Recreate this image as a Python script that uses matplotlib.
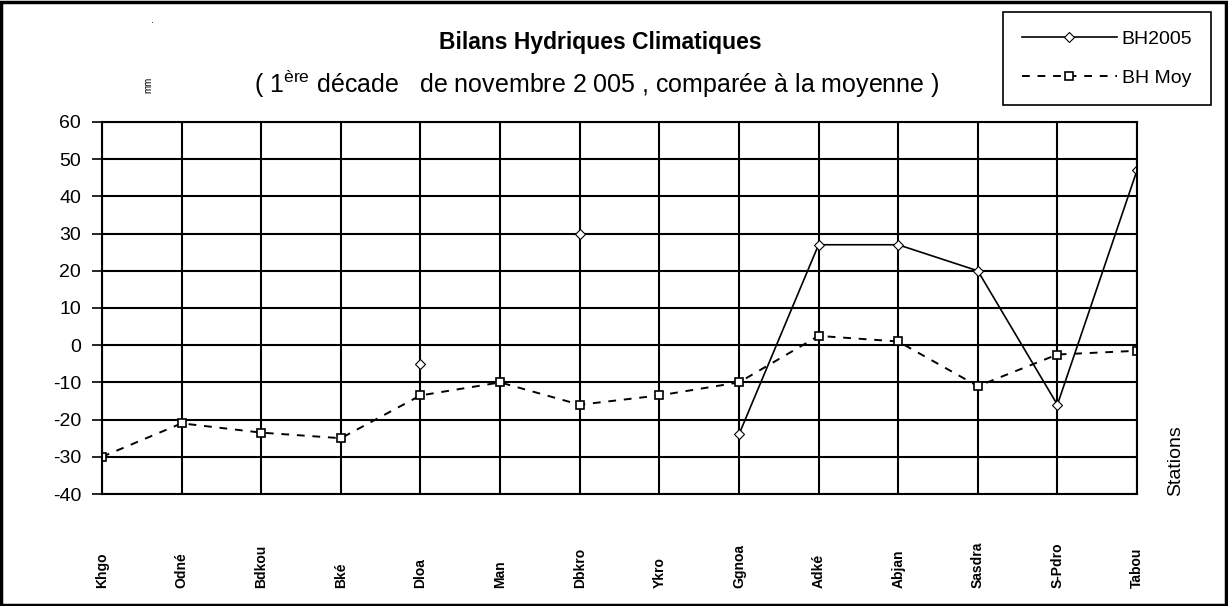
import numpy as np
import matplotlib
matplotlib.use("Agg")
import matplotlib.pyplot as plt
from matplotlib.transforms import blended_transform_factory

plt.rcParams['font.family'] = ['Liberation Sans', 'DejaVu Sans']
plt.rcParams['axes.unicode_minus'] = False

stations = ["Khgo", "Odné", "Bdkou", "Bké", "Dloa", "Man", "Dbkro",
            "Ykro", "Ggnoa", "Adké", "Abjan", "Sasdra", "S-Pdro", "Tabou"]
bh2005 = [np.nan, np.nan, np.nan, np.nan, -5, np.nan, 30,
          np.nan, -24, 27, 27, 20, -16, 47]
bh_moy = [-30, -21, -23.5, -25, -13.5, -10, -16,
          -13.5, -10, 2.5, 1, -11, -2.5, -1.5]
yticks = list(range(-40, 61, 10))

x = np.arange(len(stations))

fig = plt.figure(figsize=(12.28, 6.06), dpi=100)
ax = fig.add_axes([0.0831, 0.1848, 0.8428, 0.6139])

ax.plot(x, bh2005, color="black", lw=1.2, marker="D", ms=5,
        mfc="white", mec="black", mew=0.8, label="BH2005")
ax.plot(x, bh_moy, color="black", lw=1.4, ls=(0, (4, 4)), marker="s", ms=6,
        mfc="white", mec="black", mew=1.2, label="BH Moy")

ax.set_xlim(0, len(stations) - 1)
ax.set_ylim(-40, 60)
ax.set_yticks(yticks)
ax.set_xticks(x)
ax.set_xticklabels([])
ax.tick_params(axis="x", length=0)
ax.tick_params(axis="y", length=7, width=1.2, labelsize=14, pad=8)
ax.grid(True, color="black", lw=1.5)
ax.set_axisbelow(True)
for s in ax.spines.values():
    s.set_linewidth(1.5)

lab_tr = blended_transform_factory(ax.transData, fig.transFigure)
for xi, name in zip(x, stations):
    ax.text(xi, 0.03, name, rotation=90, ha="center", va="bottom",
            fontsize=10, fontweight="bold", transform=lab_tr)

fig.text(0.4886, 0.93, "Bilans Hydriques Climatiques", ha="center", va="center",
         fontsize=16.5, fontweight="bold")
fig.text(0.486, 0.862, "( 1$^{\\mathregular{ère}}$ décade   de novembre 2 005 , comparée à la moyenne )",
         ha="center", va="center", fontsize=18)
fig.text(0.1205, 0.86, "mm", rotation=90, ha="center", va="center", fontsize=7)
fig.text(0.124, 0.967, ".", ha="center", va="center", fontsize=8)
fig.text(0.957, 0.24, "Stations", rotation=90, ha="center", va="center", fontsize=14)

leg = fig.legend(loc="upper right", bbox_to_anchor=(0.986, 0.981), fontsize=14,
                 fancybox=False, edgecolor="black", framealpha=1,
                 handlelength=4.9, handletextpad=0.25, borderpad=0.95,
                 labelspacing=1.1, borderaxespad=0)
leg.get_frame().set_linewidth(1.2)

fig.patches.append(plt.Rectangle((0.001, 0.001), 0.997, 0.996, transform=fig.transFigure,
                                 fill=False, edgecolor="black", lw=2.5))

fig.savefig("out.png", dpi=100)
